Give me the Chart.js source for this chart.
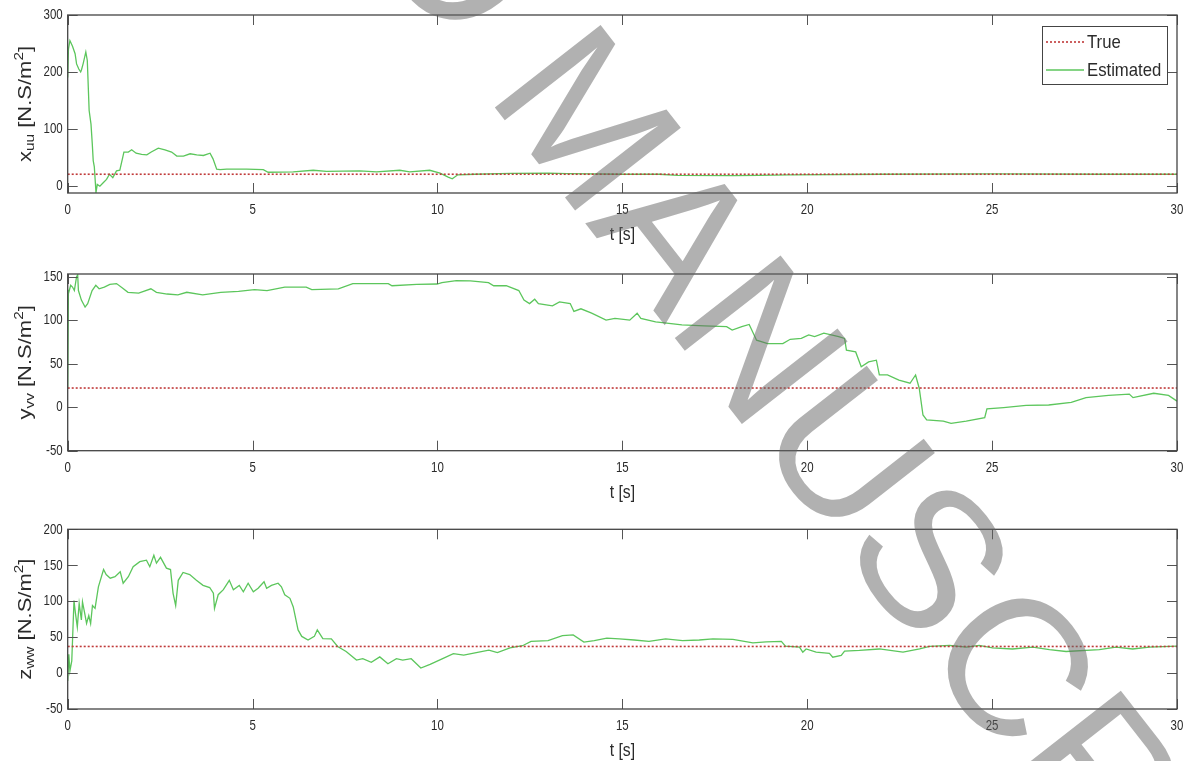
<!DOCTYPE html>
<html>
<head>
<meta charset="utf-8">
<script src="https://cdn.jsdelivr.net/npm/chart.js@4.4.1/dist/chart.umd.min.js"></script>
<style>
    html, body { margin: 0; background: #fff; }
    #wrap { position: relative; width: 1186px; height: 761px; overflow: hidden; }
    #wrap canvas { position: absolute; left: 0; }
</style>
</head>
<body>
<div id="wrap">
    <canvas id="c1" width="1186" height="250" style="top:0px"></canvas>
    <canvas id="c2" width="1186" height="255" style="top:250px"></canvas>
    <canvas id="c3" width="1186" height="256" style="top:505px"></canvas>
    <canvas id="wm" width="1186" height="761" style="top:0px;pointer-events:none"></canvas>
</div>
<script>
// time axis
const tRange = [0, 30];
const xTicks = [0, 5, 10, 15, 20, 25, 30];

// true parameter values (x_uu, y_vv, z_ww)
const trueVals = [20, 22, 37];

// x_uu estimate
const tXuu = [0, 0.02, 0.06, 0.13, 0.2, 0.24, 0.3, 0.35, 0.37, 0.42,
    0.49, 0.53, 0.58, 0.63, 0.665, 0.69, 0.72, 0.765, 0.8, 0.87,
    0.96, 1.05, 1.13, 1.22, 1.32, 1.41, 1.49, 1.52, 1.64, 1.73,
    1.85, 2.0, 2.14, 2.26, 2.45, 2.63, 2.81, 2.95, 3.13, 3.31,
    3.49, 3.67, 3.85, 3.93, 4.03, 4.12, 4.3, 4.84, 5.29, 5.42,
    6.1, 6.64, 7.0, 7.9, 8.35, 8.98, 9.25, 9.79, 10.07, 10.29,
    10.4, 10.55, 11, 12, 13, 13.5, 15, 16, 16.5, 18,
    18.7, 19.5, 22, 25, 28, 30];
const xuuEst = [190, 240, 255, 245, 232, 214, 205, 200, 203, 215,
    235, 220, 132, 108, 73, 44, 33, -12, 2, -1,
    5, 11, 20, 14, 26, 27, 50, 59, 59, 63,
    57, 55, 54, 59, 66, 63, 59, 52, 52, 56,
    54, 53, 57, 47, 29, 28, 29, 29, 28, 23.5,
    24, 27, 25, 26, 24, 27, 24, 27, 22, 15,
    12, 19, 20, 21.5, 22, 21, 20, 20, 18, 17.5,
    18, 19, 20, 20.5, 20, 20];

// y_vv estimate
const tYvv = [0, 0.02, 0.03, 0.08, 0.13, 0.18, 0.24, 0.27, 0.29, 0.37,
    0.47, 0.54, 0.66, 0.76, 0.85, 0.99, 1.14, 1.32, 1.48, 1.63,
    1.92, 2.25, 2.4, 2.69, 2.98, 3.22, 3.65, 4.14, 4.62, 5.05,
    5.39, 5.87, 6.45, 6.6, 7.32, 7.71, 8.67, 8.77, 9.44, 9.99,
    10.12, 10.51, 10.89, 11.38, 11.52, 11.86, 12.2, 12.34, 12.49, 12.63,
    12.73, 13.11, 13.3, 13.59, 13.69, 13.88, 14.17, 14.56, 14.8, 15.2,
    15.4, 15.5, 15.9, 16.2, 16.61, 17.21, 17.82, 17.97, 18.23, 18.43,
    18.63, 18.93, 19.34, 19.54, 19.84, 20.04, 20.2, 20.45, 20.85, 21.01,
    21.06, 21.31, 21.46, 21.66, 21.87, 21.95, 22.17, 22.48, 22.78, 22.93,
    23.03, 23.13, 23.23, 23.68, 23.89, 24.3, 24.8, 24.86, 25.31, 25.92,
    26.53, 27.14, 27.54, 28.15, 28.71, 28.81, 29.37, 29.77, 30];
const yvvEst = [23, 135, 132, 140, 138, 134, 150, 152, 134, 123,
    115, 119, 134, 140, 136, 138, 141, 142, 137, 132,
    131, 136, 132, 130, 129, 132, 129, 132, 133, 135,
    134, 138, 138, 135, 136, 142, 142, 139.5, 141, 141.5,
    143, 145.5, 145, 143, 139.5, 139.5, 134, 123, 119, 124,
    119, 116.5, 121, 119, 110, 113, 108, 100, 102, 100,
    108, 102, 98, 96.5, 94.5, 93.5, 92.5, 88.5, 92.5, 95,
    77, 73, 73, 78, 79, 83, 81, 85, 81, 79,
    65.5, 63.5, 46.5, 52, 54, 37, 37, 31, 27.5, 37,
    21.5, -9, -14.5, -16, -18.5, -16, -12, -2, -0.5, 2,
    2.5, 5.5, 11, 13.5, 15, 11, 16, 13.5, 7];

// z_ww estimate
const tZww = [0, 0.03, 0.06, 0.11, 0.17, 0.21, 0.26, 0.31, 0.37, 0.4,
    0.46, 0.51, 0.57, 0.62, 0.67, 0.74, 0.83, 0.97, 1.04, 1.15,
    1.28, 1.42, 1.5, 1.64, 1.77, 1.95, 2.13, 2.22, 2.33, 2.4,
    2.51, 2.67, 2.78, 2.85, 2.92, 2.99, 3.12, 3.3, 3.48, 3.66,
    3.84, 3.94, 3.97, 4.07, 4.21, 4.37, 4.48, 4.64, 4.75, 4.88,
    5.02, 5.15, 5.31, 5.38, 5.51, 5.69, 5.78, 5.87, 6.01, 6.1,
    6.23, 6.33, 6.5, 6.67, 6.75, 6.9, 7.13, 7.3, 7.53, 7.81,
    7.98, 8.21, 8.44, 8.66, 8.89, 9.06, 9.29, 9.55, 9.8, 10.14,
    10.43, 10.71, 11.05, 11.39, 11.62, 11.96, 12.3, 12.53, 12.99, 13.38,
    13.67, 13.96, 14.24, 14.58, 14.92, 15.32, 15.72, 16.17, 16.63, 17.08,
    17.45, 17.99, 18.53, 18.89, 19.3, 19.41, 19.79, 19.88, 19.97, 20.24,
    20.6, 20.69, 20.92, 21.01, 21.41, 21.95, 22.59, 23.04, 23.31, 23.85,
    24.3, 24.65, 25.01, 25.55, 26.1, 26.55, 27.0, 27.9, 28.35, 28.8,
    29.25, 30];
const zwwEst = [-11, 26, 3, 17, 101, 83, 64, 97, 74, 99,
    83, 69, 80, 69, 94, 90, 120, 144, 137, 132,
    134, 141, 125, 134, 148, 155, 157, 148, 164, 153,
    161, 146, 144, 111, 94, 129, 140, 137, 129, 122,
    119, 111, 90, 109, 116, 129, 116, 122, 113, 125,
    113, 118, 127, 118, 122, 125, 120, 109, 104, 92,
    60, 51, 46, 51, 60, 48, 47.5, 37, 30, 18,
    20, 15, 22.5, 13, 20, 18, 20, 7, 12, 20,
    27, 25, 28.5, 32, 28.5, 35, 38, 44, 45, 52,
    53, 43, 45, 48.5, 47.5, 46, 44, 47.5, 45, 46,
    47.5, 47, 42, 43.5, 44, 37.5, 36, 29, 33.5, 29,
    27.5, 22, 24.5, 30.5, 31.5, 33.5, 29, 33.5, 37, 38.5,
    36, 38.5, 35, 33.5, 36, 32.5, 30, 32.5, 36, 33.5,
    36, 37.5];

// y axis tick labels
const xuuTicks = [0, 100, 200, 300];
const yvvTicks = [-50, 0, 50, 100, 150];
const zwwTicks = [-50, 0, 50, 100, 150, 200];

const FONT = '"Liberation Sans", Arial, Helvetica, sans-serif';
const TXT = "#2b2b2b";

function drawText(ctx, s, x, y, size, sx, align, base) {
    ctx.save();
    ctx.translate(x, y);
    ctx.scale(sx, 1);
    ctx.font = size + "px " + FONT;
    ctx.textAlign = align;
    ctx.textBaseline = base;
    ctx.fillText(s, 0, 0);
    ctx.restore();
}

// rotated y title with sub/superscripts
function drawYTitle(ctx, sym, sub, bx, cy) {
    const F = 22;
    const parts = [
        { s: sym, f: F, dy: 0 },
        { s: sub, f: F * 0.7, dy: F * 0.17 },
        { s: " [N.S/m", f: F, dy: 0 },
        { s: "2", f: F * 0.7, dy: -F * 0.42 },
        { s: "]", f: F, dy: 0 },
    ];
    ctx.save();
    ctx.translate(bx, cy);
    ctx.rotate(-Math.PI / 2);
    ctx.scale(1, 0.85);
    let total = 0;
    parts.forEach((p) => {
        ctx.font = p.f + "px " + FONT;
        p.w = ctx.measureText(p.s).width;
        total += p.w;
    });
    let x = -total / 2;
    ctx.textAlign = "left";
    ctx.textBaseline = "alphabetic";
    parts.forEach((p) => {
        ctx.font = p.f + "px " + FONT;
        ctx.fillText(p.s, x, p.dy);
        x += p.w;
    });
    ctx.restore();
}

function drawLegend(chart, a) {
    const ctx = chart.ctx;
    const w = 125, h = 58;
    const L = a.right - 10 - w, T = a.top + 11;
    ctx.save();
    ctx.fillStyle = "#fff";
    ctx.fillRect(L, T, w, h);
    ctx.strokeStyle = "#444";
    ctx.lineWidth = 1;
    ctx.strokeRect(L + 0.5, T + 0.5, w, h);
    chart.data.datasets.forEach((ds, i) => {
        const y = T + 16 + i * 28;
        ctx.strokeStyle = ds.borderColor;
        ctx.lineWidth = ds.borderWidth;
        ctx.setLineDash(ds.borderDash || []);
        ctx.beginPath();
        ctx.moveTo(L + 4, y);
        ctx.lineTo(L + 42, y);
        ctx.stroke();
        ctx.setLineDash([]);
        ctx.fillStyle = TXT;
        drawText(ctx, ds.label, L + 45, y + 1, 19, 0.88, "left", "middle");
    });
    ctx.restore();
}

const matlabAxes = {
    id: "matlabAxes",
    afterDatasetsDraw(chart, args, o) {
        const ctx = chart.ctx;
        const a = chart.chartArea;
        const xs = chart.scales.x, ys = chart.scales.y;
        ctx.save();

        // inward ticks on all four sides
        ctx.strokeStyle = "#555";
        ctx.lineWidth = 1;
        ctx.beginPath();
        xs.ticks.forEach((t) => {
            const px = Math.round(xs.getPixelForValue(t.value)) + 0.5;
            ctx.moveTo(px, a.bottom); ctx.lineTo(px, a.bottom - 10);
            ctx.moveTo(px, a.top); ctx.lineTo(px, a.top + 10);
        });
        ys.ticks.forEach((t) => {
            const py = Math.round(ys.getPixelForValue(t.value)) + 0.5;
            ctx.moveTo(a.left, py); ctx.lineTo(a.left + 10, py);
            ctx.moveTo(a.right, py); ctx.lineTo(a.right - 10, py);
        });
        ctx.stroke();

        ctx.strokeStyle = "#444";
        ctx.lineWidth = 1.3;
        ctx.strokeRect(a.left, a.top, a.right - a.left, a.bottom - a.top);

        ctx.fillStyle = TXT;
        xs.ticks.forEach((t) => {
            drawText(ctx, String(t.value), xs.getPixelForValue(t.value), a.bottom + 17, 15.5, 0.74, "center", "middle");
        });
        ys.ticks.forEach((t) => {
            drawText(ctx, String(t.value), a.left - 5, ys.getPixelForValue(t.value), 15.5, 0.74, "right", "middle");
        });
        drawText(ctx, "t [s]", (a.left + a.right) / 2, a.bottom + 42, 18.5, 0.85, "center", "middle");
        drawYTitle(ctx, o.sym, o.sub, 31, (a.top + a.bottom) / 2);

        if (o.legend) drawLegend(chart, a);
        ctx.restore();
    },
};

function makeChart(id, t, est, truth, yMin, yMax, yTicks, sym, sub, padTop, xAxisH, legend) {
    const ctx = document.getElementById(id).getContext("2d");
    return new Chart(ctx, {
        type: "line",
        data: {
            datasets: [
                {
                    label: "True",
                    data: tRange.map((x) => ({ x: x, y: truth })),
                    borderColor: "#c03a3a",
                    borderWidth: 1.6,
                    borderDash: [2, 2],
                    pointRadius: 0,
                },
                {
                    label: "Estimated",
                    data: t.map((x, i) => ({ x: x, y: est[i] })),
                    borderColor: "#5cc65c",
                    borderWidth: 1.3,
                    pointRadius: 0,
                    tension: 0,
                },
            ],
        },
        options: {
            responsive: false,
            animation: false,
            devicePixelRatio: 1,
            layout: { padding: { top: padTop, right: 9, left: 0, bottom: 0 } },
            plugins: {
                legend: { display: false },
                tooltip: { enabled: false },
                matlabAxes: { sym: sym, sub: sub, legend: legend },
            },
            scales: {
                x: {
                    type: "linear",
                    min: tRange[0],
                    max: tRange[1],
                    grid: { display: false },
                    border: { display: false },
                    ticks: { display: false },
                    afterBuildTicks: (s) => { s.ticks = xTicks.map((v) => ({ value: v })); },
                    afterFit: (s) => { s.height = xAxisH; },
                },
                y: {
                    type: "linear",
                    min: yMin,
                    max: yMax,
                    grid: { display: false },
                    border: { display: false },
                    ticks: { display: false },
                    afterBuildTicks: (s) => { s.ticks = yTicks.map((v) => ({ value: v })); },
                    afterFit: (s) => { s.width = 67.7; },
                },
            },
        },
        plugins: [matlabAxes],
    });
}

makeChart("c1", tXuu, xuuEst, trueVals[0], -13, 300, xuuTicks, "x", "uu", 15, 57, true);
makeChart("c2", tYvv, yvvEst, trueVals[1], -50, 153, yvvTicks, "y", "vv", 24, 54.3, false);
makeChart("c3", tZww, zwwEst, trueVals[2], -50, 200, zwwTicks, "z", "ww", 24.3, 52, false);

// "ACCEPTED MANUSCRIPT" watermark overlay
(function () {
    const wm = document.getElementById("wm").getContext("2d");
    const F = 195, th = (52 * Math.PI) / 180;
    wm.font = F + "px " + FONT;
    const pre = wm.measureText("ACCEPTED ").width;
    const mW = wm.measureText("M").width;
    const dir = [Math.cos(th), Math.sin(th)];
    const up = [Math.sin(th), -Math.cos(th)];
    const cx = 590, cy = 116;
    const along = pre + mW / 2, half = 0.358 * F;
    const ox = cx - dir[0] * along - up[0] * half;
    const oy = cy - dir[1] * along - up[1] * half;
    wm.translate(ox, oy);
    wm.rotate(th);
    wm.fillStyle = "rgba(100,100,100,0.5)";
    wm.textBaseline = "alphabetic";
    wm.fillText("ACCEPTED MANUSCRIPT", 0, 0);
})();
</script>
</body>
</html>
